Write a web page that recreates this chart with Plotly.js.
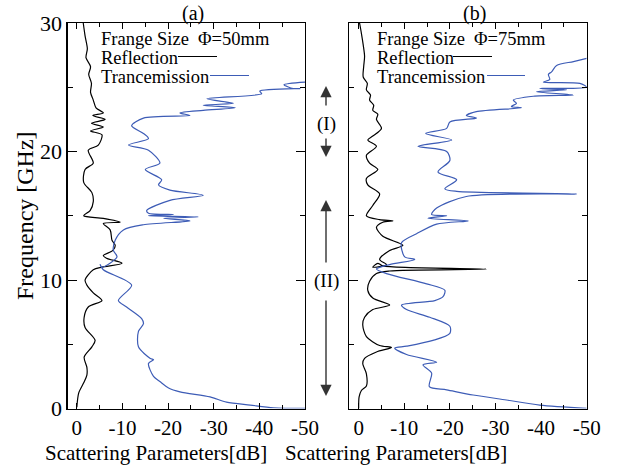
<!DOCTYPE html>
<html>
<head>
<meta charset="utf-8">
<script src="https://cdn.plot.ly/plotly-3.0.1.min.js"></script>
<style>html,body{margin:0;padding:0;background:#fff;}#chart{width:619px;height:475px;}</style>
</head>
<body>
<div id="chart"></div>
<script>
// ---- Data (frequency in GHz, scattering parameter in dB) ----
// Panel (a): flange size 50 mm
const reflA_freq = [30.0,29.0,28.0,27.3,26.6,26.0,25.3,24.6,24.0,23.4,23.0,22.8,22.5,22.2,21.9,21.6,21.3,20.5,20.1,19.1,18.6,17.6,16.8,16.1,15.4,15.0,14.8,14.5,14.4,13.9,13.1,12.7,12.3,11.9,11.7,11.3,11.0,10.8,10.0,9.6,9.0,8.4,7.9,7.1,6.3,5.3,4.8,4.0,3.2,2.6,2.0,1.2,0.1];
const reflA_db   = [-1.4,-1.8,-2.3,-2.0,-3.0,-2.6,-3.2,-3.0,-3.6,-4.2,-5.8,-3.5,-6.2,-3.2,-5.8,-3.0,-5.5,-4.7,-2.5,-3.6,-1.8,-1.5,-3.3,-3.6,-2.9,-1.5,-5.8,-9.5,-5.8,-7.3,-7.7,-8.4,-7.9,-5.8,-6.5,-9.9,-5.5,-3.6,-1.8,-2.2,-3.6,-5.5,-2.5,-1.6,-1.8,-4.0,-3.3,-1.6,-2.2,-2.2,-1.5,-0.4,0.0];

const tranA_freq = [25.4,25.2,24.9,24.9,24.7,24.5,24.1,23.75,23.6,23.4,23.2,23.0,22.8,22.6,22.0,21.4,21.0,20.5,20.1,19.1,18.6,17.8,17.4,17.0,16.6,16.2,15.4,15.2,15.1,15.0,14.9,14.8,14.6,14.3,13.9,13.1,12.3,11.8,11.0,11.2,10.8,9.6,8.4,7.9,7.0,6.6,6.0,4.8,3.9,3.8,3.5,2.5,2.1,1.6,1.3,0.9,0.5,0.27,0.06,0.02];
const tranA_db   = [-50,-45.4,-47.4,-48.9,-40.1,-40.5,-28.5,-34.3,-27.7,-34.7,-27.7,-22.6,-24.8,-14.6,-12.0,-14.6,-15.7,-11.3,-15.7,-18.2,-15.0,-18.6,-17.9,-20.4,-27.7,-20.4,-15.3,-15.7,-21.2,-15.7,-26.6,-19.0,-24.8,-14.6,-10.2,-8.4,-8.0,-8.8,-5.5,-5.1,-5.8,-12.0,-9.1,-10.9,-14.2,-14.6,-13.5,-13.5,-16.1,-16.8,-15.7,-16.8,-18.2,-20.1,-22.6,-29.2,-32.8,-38.0,-43.1,-50];

// Panel (b): flange size 75 mm
const reflB_freq = [30.0,29.2,28.3,27.4,26.6,25.8,25.3,24.8,24.4,24.0,23.6,23.2,22.9,22.5,21.8,21.2,20.9,20.4,19.7,19.1,18.6,17.9,17.4,16.7,15.8,15.0,14.7,14.6,14.5,14.1,13.4,12.7,12.3,11.6,11.2,11.0,11.3,11.1,10.85,10.7,10.5,9.9,9.2,8.6,8.05,7.7,7.1,6.5,5.6,4.9,4.75,4.4,3.9,3.5,2.7,1.75,1.4,0.9,0.0];
const reflB_db   = [-0.2,-0.6,-1.0,-1.3,-1.1,-1.0,-1.9,-1.7,-2.6,-2.4,-3.3,-3.1,-4.2,-3.9,-5.0,-3.1,-2.0,-3.9,-1.7,-2.4,-4.2,-1.7,-2.0,-4.6,-3.1,-1.7,-4.6,-7.5,-5.3,-3.9,-5.3,-9.7,-6.8,-4.6,-6.1,-3.1,-4.2,-5.3,-28.0,-6.8,-3.9,-2.4,-2.0,-3.1,-6.8,-3.1,-1.3,-0.9,-1.7,-4.6,-7.2,-3.9,-1.3,-0.9,-1.7,-1.7,-0.6,-0.1,0.0];

const tranB_freq = [27.25,27.0,26.7,26.2,26.0,25.6,25.4,25.3,25.0,24.9,24.8,24.65,24.4,24.3,24.0,23.75,23.5,23.4,23.1,22.8,22.6,22.3,21.8,21.4,20.9,20.4,20.0,19.3,18.4,17.8,17.1,16.9,16.7,16.5,15.6,15.1,15.0,14.8,14.6,14.35,13.6,12.9,11.8,11.6,11.2,10.85,10.5,9.7,9.2,8.7,8.4,8.05,7.7,7.1,6.4,5.85,5.3,4.85,4.7,4.2,3.6,3.4,2.75,1.7,1.45,1.05,0.66,0.27,0.02];
const tranB_db   = [-50,-47.1,-43.4,-42.3,-41.6,-41.9,-40.5,-48.5,-50,-39.7,-45.6,-39.0,-47.1,-38.3,-33.9,-34.6,-33.5,-35.7,-25.8,-23.6,-25.8,-20.0,-19.3,-14.7,-20.4,-13.0,-19.3,-20.0,-17.4,-21.5,-18.9,-21.5,-47.8,-23.6,-17.1,-16.0,-19.3,-15.2,-24.0,-17.1,-12.7,-9.4,-10.1,-12.3,-6.8,-3.9,-6.1,-14.9,-18.9,-18.5,-16.7,-9.4,-10.5,-15.6,-20.0,-20.0,-16.3,-10.5,-7.9,-10.5,-17.1,-14.1,-16.0,-15.5,-19.3,-25.1,-32.4,-39.7,-50];

// Tick labels
const xTickVals = [0,-10,-20,-30,-40,-50];
const xTickText = ['0','-10','-20','-30','-40','-50'];
const xMinorVals = [-5,-15,-25,-35,-45];
const yTickVals = [0,10,20,30];
const yTickText = ['0','10','20','30'];
const yMinorVals = [5,15,25];

// ---- Layout helpers ----
const W = 619, H = 475;
const px = x => x / W;
const py = y => 1 - y / H;
const FONT = "Liberation Serif";
const BLUE = '#3d5cb6';

const lineStyle = (color) => ({color: color, width: 1.2, shape: 'spline', smoothing: 0.8});

const traces = [
  {x: reflA_db, y: reflA_freq, xaxis: 'x', yaxis: 'y', mode: 'lines', line: lineStyle('#000'), name: 'Reflection (a)'},
  {x: tranA_db, y: tranA_freq, xaxis: 'x', yaxis: 'y', mode: 'lines', line: lineStyle(BLUE), name: 'Trancemission (a)'},
  {x: reflB_db, y: reflB_freq, xaxis: 'x2', yaxis: 'y2', mode: 'lines', line: lineStyle('#000'), name: 'Reflection (b)'},
  {x: tranB_db, y: tranB_freq, xaxis: 'x2', yaxis: 'y2', mode: 'lines', line: lineStyle(BLUE), name: 'Trancemission (b)'}
];

function xAxis(domain, anchor) {
  return {
    domain: domain, anchor: anchor, range: [2.05, -50],
    tickmode: 'array', tickvals: xTickVals, ticktext: xTickText,
    ticks: 'inside', ticklen: 6, tickwidth: 1, tickcolor: '#000',
    minor: {tickmode: 'array', tickvals: xMinorVals, ticks: 'inside', ticklen: 4, tickcolor: '#000', showgrid: false},
    showline: true, linecolor: '#000', linewidth: 1.2, mirror: 'ticks',
    showgrid: false, zeroline: false,
    tickfont: {family: FONT, size: 21, color: '#000'}
  };
}
function yAxis(domain, anchor, labels) {
  return {
    domain: domain, anchor: anchor, range: [0, 30],
    tickmode: 'array', tickvals: yTickVals, ticktext: yTickText,
    ticks: 'inside', ticklen: 9, tickwidth: 1, tickcolor: '#000',
    minor: {tickmode: 'array', tickvals: yMinorVals, ticks: 'inside', ticklen: 5, tickcolor: '#000', showgrid: false},
    showline: true, linecolor: '#000', linewidth: 1.2, mirror: 'ticks',
    showgrid: false, zeroline: false, showticklabels: labels,
    tickfont: {family: FONT, size: 22, color: '#000'}
  };
}

const yDom = [py(408.5), py(23)];

const annotations = [];
function txt(x, y, text, size, xanchor) {
  annotations.push({xref: 'paper', yref: 'paper', x: px(x), y: py(y), text: text, showarrow: false,
    xanchor: xanchor || 'center', yanchor: 'middle', borderpad: 0, font: {family: FONT, size: size, color: '#000'}});
}
function arrow(x, yTip, yTail) {
  annotations.push({xref: 'paper', yref: 'paper', x: px(x), y: py(yTip), ax: 0, ay: yTail - yTip,
    text: '', showarrow: true, arrowhead: 2, arrowsize: 1.6, arrowwidth: 1.4, arrowcolor: '#333', standoff: 0, startstandoff: 0});
}

// Panel titles
txt(193, 13, '(a)', 20);
txt(474, 13, '(b)', 20);
// Legend texts
txt(100, 39, 'Frange Size\u00a0\u00a0\u03A6=50mm', 18.5, 'left');
txt(100, 58, 'Reflection', 18.5, 'left');
txt(100, 77, 'Trancemission', 18.5, 'left');
txt(376, 39, 'Frange Size\u00a0\u00a0\u03A6=75mm', 18.5, 'left');
txt(376, 58, 'Reflection', 18.5, 'left');
txt(376, 77, 'Trancemission', 18.5, 'left');
// Axis titles
txt(156, 453, 'Scattering Parameters[dB]', 21);
txt(396, 453, 'Scattering Parameters[dB]', 21);
annotations.push({xref: 'paper', yref: 'paper', x: px(25), y: py(216), text: 'Frequency [GHz]', showarrow: false,
  textangle: -90, xanchor: 'center', yanchor: 'middle', font: {family: FONT, size: 24, color: '#000'}});
// Region markers
txt(326, 124, '(I)', 19);
txt(326, 281, '(II)', 19);
arrow(326, 86, 107);
arrow(326, 157, 137);
arrow(326, 200, 264);
arrow(326, 396, 299);

// Legend line samples
const shapes = [
  {type: 'line', xref: 'paper', yref: 'paper', x0: px(178), x1: px(217), y0: py(56.5), y1: py(56.5), line: {color: '#000', width: 1.2}},
  {type: 'line', xref: 'paper', yref: 'paper', x0: px(210), x1: px(249), y0: py(75.5), y1: py(75.5), line: {color: BLUE, width: 1.2}},
  {type: 'line', xref: 'paper', yref: 'paper', x0: px(453), x1: px(492), y0: py(56.5), y1: py(56.5), line: {color: '#000', width: 1.2}},
  {type: 'line', xref: 'paper', yref: 'paper', x0: px(487), x1: px(525), y0: py(75.5), y1: py(75.5), line: {color: BLUE, width: 1.2}}
];

const layout = {
  width: W, height: H,
  margin: {l: 0, r: 0, t: 0, b: 0, pad: 0},
  paper_bgcolor: '#fff', plot_bgcolor: '#fff',
  showlegend: false,
  font: {family: FONT, color: '#000'},
  xaxis: xAxis([px(67.5), px(305)], 'y'),
  yaxis: yAxis(yDom, 'x', true),
  xaxis2: xAxis([px(349.3), px(586.7)], 'y2'),
  yaxis2: yAxis(yDom, 'x2', false),
  annotations: annotations,
  shapes: shapes
};

Plotly.newPlot('chart', traces, layout, {displayModeBar: false, staticPlot: true});
</script>
</body>
</html>
